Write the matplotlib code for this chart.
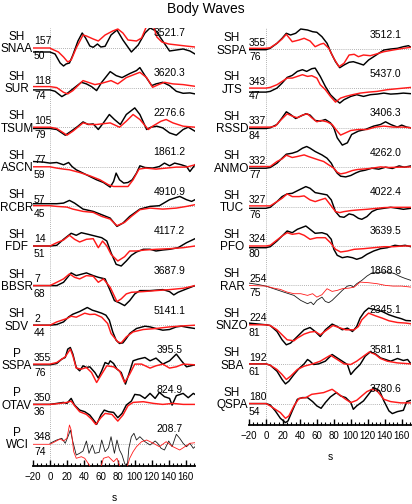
import matplotlib
matplotlib.use("Agg")
import matplotlib.pyplot as plt
from matplotlib.ticker import MultipleLocator
import matplotlib.transforms as mtrans

plt.rcParams['font.family'] = ['Liberation Sans', 'DejaVu Sans']

# ---------------- data: left column ----------------
left_stations = ["SNAA", "SUR", "TSUM", "ASCN", "RCBR", "FDF", "BBSR", "SDV", "SSPA", "OTAV", "WCI"]
left_phases = ["SH", "SH", "SH", "SH", "SH", "SH", "SH", "SH", "P", "P", "P"]
left_azimuth = ["157", "118", "105", "77", "57", "14", "7", "2", "355", "350", "348"]
left_distance = ["50", "74", "79", "59", "45", "51", "68", "44", "76", "36", "74"]
left_amplitude = ["3521.7", "3620.3", "2276.6", "1861.2", "4910.9", "4117.2", "3687.9", "5141.1", "395.5", "824.9", "208.7"]

# ---------------- data: right column ----------------
right_stations = ["SSPA", "JTS", "RSSD", "ANMO", "TUC", "PFO", "RAR", "SNZO", "SBA", "QSPA"]
right_phases = ["SH"] * 10
right_azimuth = ["355", "343", "337", "332", "327", "324", "254", "224", "192", "180"]
right_distance = ["76", "47", "84", "77", "76", "80", "75", "81", "61", "54"]
right_amplitude = ["3512.1", "5437.0", "3406.3", "4262.0", "4022.4", "3639.5", "1868.6", "2345.1", "3581.1", "3780.6"]

# waveforms: (time s, relative amplitude)
snaa_obs = [(-20,-4),(0,-4),(6,-6),(12,-15),(16,-18),(19,-16),(23,-15),(27,-7),(33,7),(38,15),(42,10),(47,2),(51,0.7),(56,4),(60,1),(65,1.7),(72,13),(79,18),(86,8),(96,-4),(104,3),(112,15),(118,20),(125,17),(133,7),(141,-3),(149,-2),(157,-1),(165,-3),(171,-6)]
snaa_syn = [(-20,0),(0,0),(2,-1),(10,-4),(16,-9),(21,-14),(25,-12),(31,0),(39,13),(43,12),(51,9),(57,7),(65,13),(74,17),(80,19),(86,15),(92,8),(102,7),(108,10),(113,20),(118,26),(122,22),(126,11),(132,6),(140,4),(150,3),(160,2),(171,1)]
sur_obs = [(-20,-2.3),(0,-2.3),(6,-3.7),(14,-9),(20,-6),(27,-1.3),(37,5.3),(43,3.7),(49,1),(55,-3),(61,5.3),(71,16),(78,12),(85,10),(94,14),(102,17),(106,20),(112,12),(120,2),(125,3.7),(133,5.3),(141,2),(149,-3.7),(157,-5.7),(165,-5.3),(171,-6.3)]
sur_syn = [(-20,1),(0,1),(8,0),(16,-4.7),(21,-6.3),(27,-3),(39,7),(45,5.3),(53,3),(61,4.3),(72,7),(80,3.7),(90,10),(106,15.3),(114,10),(121,0.3),(128,3),(135,5.3),(145,3.7),(157,3),(171,1.3)]
tsum_obs = [(-20,-1.3),(0,-1.3),(8,-2.3),(18,-8),(25,-4),(33,1),(39,5.3),(45,2.7),(51,3.3),(57,-2.3),(63,4.3),(70,12.7),(76,7.7),(83,2.7),(90,12.7),(100,19.3),(106,12.7),(114,-2.3),(119,0),(126,1),(133,-0.7),(141,-5.7),(149,-8),(157,-2.3),(163,0),(171,-4)]
tsum_syn = [(-20,0),(0,0),(8,-1.3),(16,-5.7),(20,-8),(27,-4),(39,4.3),(47,2.7),(55,2.7),(61,3.3),(71,4.3),(82,0),(90,6),(98,12.7),(106,7.7),(116,-2.3),(121,1),(131,6),(137,7.7),(145,4.3),(157,1),(171,0)]
ascn_obs = [(-20,5.3),(-8,4.7),(0,3.7),(8,4.3),(16,2),(22,4.3),(26,0.3),(31,-3),(39,-6.3),(47,-9.7),(55,-13),(63,-15.7),(71,-20.3),(75,-14.7),(78,-6.3),(82,-13),(87,-16.3),(92,-15.7),(97,-13),(102,-6.3),(106,1),(112,-0.7),(121,-1.3),(129,0.3),(135,3.7),(141,1),(147,3.7),(155,2),(161,0.3),(165,-4.7),(171,2)]
ascn_syn = [(-20,0),(0,0),(8,-1.3),(16,-2.3),(23,-3),(35,-5.7),(47,-9),(59,-13),(69,-18),(75,-19.7),(82,-19.7),(92,-19.7),(98,-13),(105,-2.3),(113,-1.3),(125,-2.3),(137,-1.3),(149,-0.3),(161,-0.3),(171,2)]
rcbr_obs = [(-20,2.7),(0,2.7),(8,2.7),(16,3.3),(23,6),(29,3.3),(39,-2.7),(51,-5),(61,-8.3),(71,-11.7),(79,-20),(86,-16.7),(94,-10),(106,-2.7),(118,0),(129,0.7),(141,6.7),(153,10),(161,6.7),(167,5),(171,6.7)]
rcbr_syn = [(-20,0.7),(0,0.7),(8,0),(20,-0.7),(27,-2.7),(39,-5),(51,-6),(61,-10),(71,-12.7),(79,-19.3),(88,-16),(96,-10),(106,-3.3),(118,-1.7),(133,-2.7),(149,-1.7),(161,0),(171,1.7)]
fdf_obs = [(-20,0),(0,0),(8,0.7),(16,6.7),(25,12.7),(31,10.7),(37,13.3),(45,11.7),(53,10),(61,8.3),(67,5),(72,-6.7),(78,-18.3),(84,-20),(90,-15),(96,-9.3),(102,-6),(110,-3.3),(118,-3.3),(125,-5),(133,-4),(141,-3.3),(151,-1.7),(161,3.3),(171,7.3)]
fdf_syn = [(-20,0),(0,0),(8,3.3),(16,6),(23,10.7),(29,6.7),(35,4),(43,6.7),(51,7.3),(57,-1.7),(62,5),(67,0),(72,-8.3),(80,-15),(88,-10.7),(94,-5),(102,-5),(112,-4),(125,-3.3),(141,-2.7),(157,-1.7),(171,0)]
bbsr_obs = [(-20,0),(0,0),(8,0),(16,3.3),(25,12.7),(31,10),(43,12.7),(51,10),(57,8.3),(65,6.7),(71,-5),(76,-15),(82,-17.3),(88,-20),(94,-15),(100,-8.3),(106,-5),(118,-5),(133,-4),(141,-6),(146,-9.3),(151,-6.7),(161,-3.3),(171,0)]
bbsr_syn = [(-20,0),(0,0),(8,3.3),(16,6.7),(23,11.7),(29,8.3),(35,6.7),(43,10),(51,9.3),(57,3.3),(63,6.7),(71,-1.7),(79,-16),(84,-13.3),(90,-8.3),(96,-6.7),(110,-6),(125,-5),(141,-4),(157,-2.7),(171,0)]
sdv_obs = [(-20,0),(0,0),(8,0.7),(16,3.3),(22,8.3),(27,11),(35,13.7),(44,17.7),(50,15),(55,13.7),(61,12),(66,10),(70,5),(74,-6.7),(78,-15),(82,-18.3),(86,-17.7),(90,-13.3),(94,-8.3),(102,-3.3),(112,-1),(118,-1.7),(125,-3.3),(133,-5),(141,-4.3),(149,-1.7),(155,-1),(163,-2.3),(171,-3.3)]
sdv_syn = [(-20,0),(0,0),(8,3.3),(20,6.7),(25,9),(31,8),(41,12),(47,10.7),(53,11),(61,8),(68,1.7),(72,-8.3),(80,-16.7),(84,-17.7),(90,-11.7),(98,-6.7),(110,-4.3),(125,-3.3),(141,-1.7),(157,-0.7),(171,0)]
sspa_p_obs = [(-20,0),(0,0),(8,1.3),(14,5.7),(18,7.3),(21,15.7),(24,17.3),(27,10.7),(31,-2.7),(35,-6),(39,-1),(43,-2.7),(47,-2),(53,-7.7),(57,-13.3),(61,-6),(65,2.3),(69,0.7),(71,4),(75,1.3),(79,-4.3),(84,-7.7),(89,-19.3),(93,-9.3),(98,4),(104,5.7),(112,7.3),(118,4),(125,6.7),(133,0.7),(141,4),(149,10.7),(155,4),(161,-2),(171,0)]
sspa_p_syn = [(-20,0.7),(0,0.7),(8,2.3),(14,5.7),(18,8),(24,15.7),(27,9),(31,-3.3),(37,-4.3),(43,-2.7),(49,-7.7),(55,-17.7),(61,-9.3),(67,-1),(75,-2),(82,-6),(88,-17.7),(94,-9.3),(100,0.7),(108,0.7),(118,-3.3),(125,-1),(133,0.7),(141,-3.3),(149,-2),(157,0.7),(171,0)]
otav_obs = [(-20,0),(0,0),(8,1),(16,2),(20,1),(25,6),(29,-0.7),(35,-5.7),(41,-7.3),(47,-10.7),(53,-17.3),(55,-20),(60,-10.7),(64,-5.7),(69,-7.3),(75,-8),(80,-13.3),(85,-9),(90,-0.7),(96,3.3),(100,10),(106,9.3),(112,6),(118,11),(124,6),(129,12),(135,7.7),(141,6),(144,-0.7),(149,8.7),(157,11),(163,6.7),(169,11),(171,10)]
otav_syn = [(-20,0),(0,0),(12,1),(20,2),(25,3.3),(29,-1.3),(35,-7.3),(43,-10),(49,-14.7),(54,-20),(60,-13.3),(65,-9),(73,-10),(80,-16.7),(86,-10.7),(92,-1.3),(98,2),(110,2.7),(122,1),(133,0),(145,1),(157,0),(171,0)]
wci_obs = [(0,0.7),(8,4),(14,5.7),(18,0.7),(22,9),(24,14),(27,2.3),(31,-11),(35,-9.3),(39,-7),(43,3),(46,-9.3),(50,-1),(53,-9.3),(58,-8.3),(61,4),(65,-7.7),(69,-3.7),(72,7.3),(76,-9.3),(79,4),(82,-6),(85,-11),(88,-19.3),(91,-24),(93,-4.3),(96,7.3),(99,10.7),(102,4),(106,7.3),(112,2.3),(118,-1),(124,3),(127,0.7),(131,-4.3),(135,-6),(140,3),(144,-2.7),(149,9.7),(153,5.7),(157,0.7),(161,-2.7),(165,0.7),(169,-4.3),(171,-2.7)]
wci_syn = [(-20,-0.3),(0,-0.3),(6,2.3),(12,5),(16,3),(20,5.7),(23,19),(25,14),(28,-7.7),(31,-14.3),(37,-12.7),(41,-14.3),(45,-19.3),(50,-26),(59,-26),(63,-14.3),(69,-12.7),(75,-17.7),(79,-14.3),(84,-26),(90,-26),(94,-14.3),(98,-7.7),(102,-2.7),(108,2.3),(114,4),(122,0.7),(129,-2.7),(137,2.3),(145,-2.7),(153,-6),(159,-2.7),(165,0.7),(171,1.3)]

sspa_sh_obs = [(-20,-0.7),(0,-0.7),(5,0.7),(13,5.7),(19,10.7),(24,15.7),(29,14),(35,15.7),(41,20),(49,19),(55,17.3),(60,16.7),(66,12.3),(72,5.7),(77,-4.3),(82,-12.7),(87,-18.7),(92,-16),(98,-13.3),(103,-12.7),(109,-14.3),(115,-16),(121,-11),(127,-7.7),(133,-4.3),(139,-1),(147,0),(155,0.7),(162,2.3),(168,3.3),(171,1.7)]
sspa_sh_syn = [(-20,0.7),(0,0.7),(5,1.3),(13,5.7),(19,10),(24,14.7),(31,7.3),(39,9),(45,10.7),(52,8),(58,2.3),(64,4.7),(68,5.7),(74,0.7),(80,-9.3),(86,-17.7),(92,-14.3),(98,-6),(104,-5.3),(109,-7.7),(115,-6),(123,-6.7),(129,-5.3),(139,-2.7),(150,-1),(162,0.7),(171,1.7)]
jts_obs = [(-20,-3.7),(0,-3.7),(5,-3),(13,0.3),(19,5.3),(25,11),(31,13),(37,17),(43,18.7),(48,17),(54,19.7),(58,20.3),(64,12),(70,2),(76,-6.3),(82,-11.3),(87,-14.7),(92,-11.3),(100,-8),(107,-6.3),(115,-8),(123,-6.3),(131,-5.7),(139,-4.7),(147,-5.7),(155,-5.3),(162,-4.7),(171,-5.3)]
jts_syn = [(-20,0.3),(0,0.3),(5,1),(13,3.7),(19,7),(25,10.3),(31,10.3),(37,12),(43,13.7),(49,12),(54,12.7),(60,10.3),(64,3.7),(70,-1.3),(76,-8),(82,-13.7),(88,-9.7),(94,-8),(102,-6.3),(111,-4.7),(121,-3.7),(131,-3),(143,-1.3),(155,-0.3),(171,1)]
rssd_obs = [(-20,-0.7),(0,-0.7),(5,0),(13,3.3),(19,10),(24,16),(29,13.3),(35,9.3),(41,11.7),(47,14),(52,12.7),(58,7.3),(64,6.7),(70,8.3),(76,5),(80,0),(84,-10),(90,-17.3),(96,-15),(101,-6.7),(109,-3.3),(117,-1.7),(127,1.7),(135,3.3),(141,6),(147,3.3),(155,0.7),(160,2.7),(166,0.7),(171,0)]
rssd_syn = [(-20,0.7),(0,0.7),(5,0.7),(11,1.7),(17,7.3),(25,14),(31,11.7),(37,10),(43,12.7),(49,14),(54,10),(60,6),(65,7.3),(72,6),(78,3.3),(84,-3.3),(88,-7.3),(94,-5),(100,-2.7),(109,-1.7),(119,-1.7),(129,0.7),(139,1.7),(150,0.7),(162,0.7),(171,0)]
anmo_obs = [(-20,-1),(0,-1),(5,-0.3),(13,4),(19,9),(24,13),(31,14),(37,15.7),(43,19),(48,20.7),(52,19),(58,15.7),(66,12.3),(72,9),(77,4),(80,-1),(84,-6),(88,-9),(94,-9.7),(100,-8.3),(106,-5.7),(111,-4),(117,-3),(125,-1),(133,-2),(141,0),(149,-1.3),(157,1.3),(163,0),(171,1.3)]
anmo_syn = [(-20,0.7),(0,0.7),(5,0.7),(13,5.7),(19,8.3),(24,12),(31,9.7),(37,10.7),(45,12.3),(50,10.7),(56,9),(62,7.3),(68,5.7),(74,2.3),(80,-1),(84,-5),(88,-6.7),(94,-5.7),(102,-3.3),(108,-2.3),(117,-1.7),(125,-1),(135,0.3),(145,-0.3),(157,0),(171,0.3)]
tuc_obs = [(-20,-1.7),(0,-1.7),(5,-0.7),(13,5),(19,10),(25,12.7),(31,13.3),(39,16.7),(47,20),(52,18.3),(58,14),(66,12.7),(72,11.7),(77,6.7),(82,-5),(87,-10),(92,-10.7),(98,-7.3),(103,-8.3),(109,-11.7),(113,-12.7),(119,-10),(125,-5),(131,-2.7),(139,-1.7),(147,-0.7),(155,-1.7),(162,-2.7),(171,-1.7)]
tuc_syn = [(-20,0.7),(0,0.7),(5,0.7),(13,5),(19,8.3),(25,12.7),(31,10),(39,10),(45,10.7),(52,6.7),(58,5),(64,6.7),(70,8.3),(76,1.7),(82,-5),(87,-6),(92,-5),(100,-4),(109,-3.3),(119,-2.7),(131,-1.7),(139,-1),(150,-0.7),(162,-0.7),(171,-0.7)]
pfo_obs = [(-20,-1.7),(0,-1.7),(5,-0.7),(13,5),(19,10),(25,15),(31,13.3),(37,16.7),(47,20),(52,16.7),(58,12.7),(66,13.3),(72,11.7),(77,6.7),(80,-3.3),(84,-9.3),(90,-11.7),(96,-10.7),(102,-11.7),(107,-13.3),(113,-11.7),(119,-8.3),(127,-5),(135,-2.7),(143,-1.7),(152,0.7),(158,0),(164,0.7),(171,-0.7)]
pfo_syn = [(-20,0),(0,0),(5,0.7),(13,6),(19,10),(25,13.3),(31,11.7),(39,12.7),(45,10.7),(52,6.7),(60,8.3),(70,8.3),(76,3.3),(82,-3.3),(88,-6),(96,-5),(104,-3.3),(115,-2.7),(127,-1.7),(139,-0.7),(150,-0.7),(162,0),(171,0)]
rar_obs = [(-20,2.3),(-10,1),(0,-0.7),(9,-3.3),(21,-6.7),(33,-10),(41,-15),(49,-18.3),(53,-16.7),(56,-19.3),(60,-15),(66,-11.7),(70,-16),(74,-17.3),(78,-15),(84,-10),(90,-5),(96,-0.7),(100,0),(103,-1.7),(107,1.7),(113,5),(119,9.3),(125,12.5),(135,13),(143,13.5),(151,12),(158,9),(164,7),(171,5)]
rar_syn = [(-20,0),(0,-0.7),(9,-2.7),(17,-4),(25,-6.7),(33,-8.3),(41,-8.3),(49,-10),(55,-8.3),(60,-11.7),(66,-9.3),(72,-3.3),(78,-6),(84,-5),(90,-3.3),(98,-2.7),(104,-1.7),(111,3.3),(121,2.7),(131,1.7),(141,0),(150,-0.7),(160,-0.7),(171,-1.7)]
snzo_obs = [(-20,1.7),(0,0),(5,-0.7),(13,-6.7),(19,-15),(24,-20),(29,-18.3),(37,-11.7),(45,-5),(52,-2.7),(58,-6.7),(64,-11.7),(70,-5),(78,0.7),(84,-1.7),(90,-5),(96,-3.3),(102,-6.7),(107,-1.7),(111,6.7),(116,13),(121,16.7),(129,15),(137,13.3),(145,10),(153,7.7),(160,6),(165,4.3),(171,4)]
snzo_syn = [(-20,0),(0,0),(5,-0.7),(13,-5),(19,-10),(25,-15),(33,-16),(37,-13.3),(45,-9.3),(52,-7.3),(58,-6.7),(64,-10),(72,-5),(79,-0.7),(86,-2.7),(94,-5),(104,-5),(109,-1.7),(113,5),(121,11.7),(129,9),(137,6.7),(145,4),(155,2.3),(165,1.7),(171,1)]
sba_obs = [(-20,0.3),(0,0.3),(5,-1),(13,-7),(19,-15.3),(23,-19.7),(27,-17),(33,-10.3),(39,-4.3),(45,0.3),(49,4.7),(52,3),(56,-0.3),(62,0.3),(70,3),(78,9.7),(84,6.3),(90,3),(96,-0.3),(100,-10.3),(105,-5.3),(111,-0.3),(117,8),(123,12.3),(129,10.3),(135,6.3),(141,4.7),(147,3),(155,5.7),(162,3.7),(167,4.7),(171,0.3)]
sba_syn = [(-20,0.3),(0,0.3),(5,-1),(13,-5.3),(19,-10.3),(24,-15.3),(29,-12),(37,-5.3),(45,-2),(55,0.3),(64,3),(76,9),(84,4.7),(92,0.3),(100,-0.3),(107,3),(115,8),(122,12.3),(129,9.7),(135,5.7),(143,3),(155,1.3),(171,0.3)]
qspa_obs = [(-20,0),(0,0),(5,-1.3),(11,-7.3),(17,-14.7),(23,-19),(26,-17.3),(31,-7.3),(37,4.3),(43,6),(49,6),(55,2),(60,-2.3),(65,-4.7),(70,1),(76,6.7),(83,11),(88,7.7),(94,6),(100,1),(103,-5.7),(107,-2.3),(115,2.7),(121,9.3),(127,16),(131,14.3),(134,12.7),(139,2.7),(145,-7.3),(149,-10),(155,-8),(162,-6.7),(166,2),(171,3.3)]
qspa_syn = [(-20,0),(0,0),(5,-2.3),(11,-5.7),(17,-9),(23,-14.7),(27,-12.3),(33,-2.3),(39,5.3),(47,6),(54,9.3),(60,10),(68,11),(78,14.3),(86,9.3),(94,4.3),(100,1),(107,3.3),(113,7.7),(119,12),(125,14.3),(131,12.7),(139,4.3),(147,2),(159,0.7),(171,0.7)]

left_obs = [snaa_obs, sur_obs, tsum_obs, ascn_obs, rcbr_obs, fdf_obs, bbsr_obs, sdv_obs, sspa_p_obs, otav_obs, wci_obs]
left_syn = [snaa_syn, sur_syn, tsum_syn, ascn_syn, rcbr_syn, fdf_syn, bbsr_syn, sdv_syn, sspa_p_syn, otav_syn, wci_syn]
right_obs = [sspa_sh_obs, jts_obs, rssd_obs, anmo_obs, tuc_obs, pfo_obs, rar_obs, snzo_obs, sba_obs, qspa_obs]
right_syn = [sspa_sh_syn, jts_syn, rssd_syn, anmo_syn, tuc_syn, pfo_syn, rar_syn, snzo_syn, sba_syn, qspa_syn]
thin_traces = {"WCI", "RAR"}

x_ticks_major = 20
x_ticks_minor = 5
amp_label_time = 141

# ---------------- layout (pixels) ----------------
W, H = 412, 504
fig = plt.figure(figsize=(W / 100, H / 100), dpi=100)
fig.text(0.5, 1 - 9 / H, "Body Waves", ha="center", va="center", fontsize=10)

def column(x_left, y_top, y_bottom, first_base, spacing, label_x, num_x,
           stations, phases, azim, dist, amps, obs, syn):
    ax = fig.add_axes([x_left / W, 1 - y_bottom / H, 162 / W, (y_bottom - y_top) / H])
    ax.set_xlim(-20, 171)
    ax.set_ylim(-(y_bottom - y_top), 0)
    for s in ("left", "right", "top"):
        ax.spines[s].set_visible(False)
    ax.spines["bottom"].set_linewidth(1.3)
    ax.set_yticks([])
    ax.xaxis.set_major_locator(MultipleLocator(x_ticks_major))
    ax.xaxis.set_minor_locator(MultipleLocator(x_ticks_minor))
    ax.tick_params(axis="x", which="major", direction="in", length=4.5, width=1.0,
                   labelsize=7, pad=4.5)
    ax.tick_params(axis="x", which="minor", direction="in", length=2.2, width=0.8)
    ax.set_xlabel("s", fontsize=7.5)
    ax.xaxis.set_label_coords(0.5, -32 / (y_bottom - y_top))
    ax.xaxis.label.set_va("center")
    ax.axvline(0, color="#9a9a9a", lw=0.6, ls=(0, (1, 1.5)), zorder=1)
    tr = mtrans.blended_transform_factory(fig.transFigure, ax.transData)
    for i, name in enumerate(stations):
        base = -(first_base + spacing * i - y_top)
        ax.plot([0, 171], [base, base], color="#9a9a9a", lw=0.6, ls=(0, (1, 1.5)), zorder=1)
        thin = name in thin_traces and (phases[i] == "P" or name == "RAR")
        lw = 0.6 if thin else 1.05
        ot, ov = zip(*obs[i])
        st, sv = zip(*syn[i])
        ax.plot(ot, [base + v for v in ov], color="#1a1a1a" if thin else "black",
                lw=lw, zorder=3, solid_joinstyle="round")
        ax.plot(st, [base + v for v in sv], color="#ff1a1a", lw=lw, zorder=4,
                solid_joinstyle="round")
        ax.text(label_x / W, base + 11, phases[i], transform=tr, ha="center", va="center",
                fontsize=8.5, clip_on=False)
        ax.text(label_x / W, base - 1.5, name, transform=tr, ha="center", va="center",
                fontsize=8.5, clip_on=False)
        ax.text(num_x / W, base + 6.5, azim[i], transform=tr, ha="left", va="center",
                fontsize=7.5, clip_on=False)
        ax.text(num_x / W, base - 8, dist[i], transform=tr, ha="left", va="center",
                fontsize=7.5, clip_on=False)
        ax.text(amp_label_time, base + 14.5, amps[i], ha="center", va="center",
                fontsize=7.5, zorder=5)
    return ax

column(33, 28, 466, 48, 39.6, 17, 34, left_stations, left_phases, left_azimuth,
       left_distance, left_amplitude, left_obs, left_syn)
column(249, 28, 425, 49, 39.4, 232, 249, right_stations, right_phases, right_azimuth,
       right_distance, right_amplitude, right_obs, right_syn)

fig.savefig("out.png", dpi=100)
